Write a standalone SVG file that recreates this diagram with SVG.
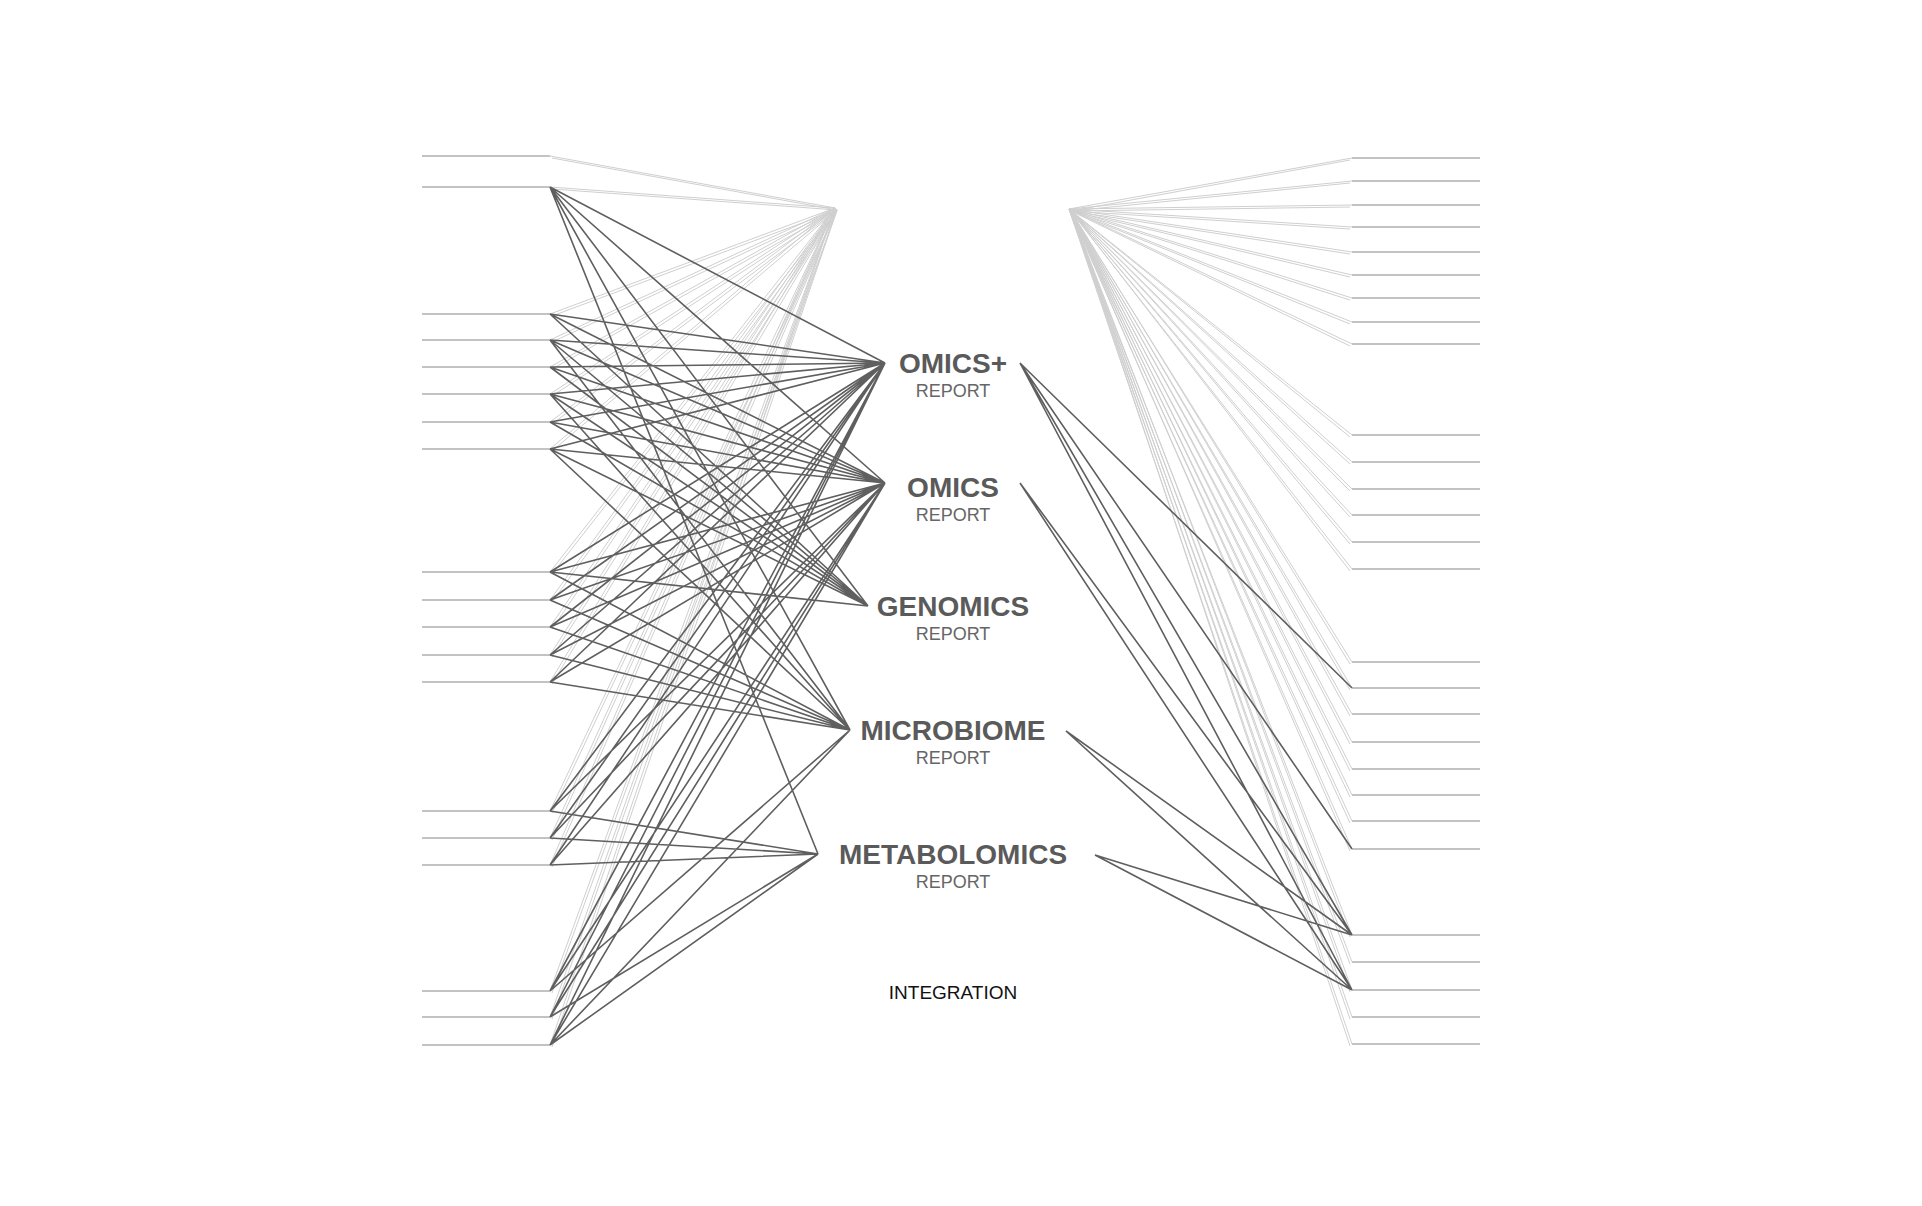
<svg xmlns="http://www.w3.org/2000/svg" width="1922" height="1206" viewBox="0 0 1922 1206">
<style>
.stub{stroke:#b0b0b0;stroke-width:1.3;fill:none}
.lt{stroke:#cfcfcf;stroke-width:1;fill:none}
.dk{stroke:#5f5f5f;stroke-width:1.6;fill:none}
.t{font-family:"Liberation Sans",Arial,sans-serif;font-weight:bold;font-size:28px;fill:#5a5a5a;text-anchor:middle}
.r{font-family:"Liberation Sans",Arial,sans-serif;font-size:18px;fill:#666;text-anchor:middle}
.i{font-family:"Liberation Sans",Arial,sans-serif;font-size:19px;fill:#111;text-anchor:middle}
</style>
<rect width="1922" height="1206" fill="#fff"/>
<g id="connectors">
<path class="stub" d="M422 156H550M422 187H550M422 314H550M422 340H550M422 367H550M422 394H550M422 422H550M422 449H550M422 572H550M422 600H550M422 627H550M422 655H550M422 682H550M422 811H550M422 838H550M422 865H550M422 991H550M422 1017H550M422 1045H550"/>
<path class="lt" d="M550 156L835 208M550 187L835 208M550 314L835 208M550 340L835 208M550 367L835 208M550 394L835 208M550 422L835 208M550 449L835 208M550 572L835 208M550 600L835 208M550 627L835 208M550 655L835 208M550 682L835 208M550 811L835 208M550 838L835 208M550 865L835 208M550 991L835 208M550 1017L835 208M550 1045L835 208"/>
<path class="lt" d="M552 158L837 210M552 189L837 210M552 316L837 210M552 342L837 210M552 369L837 210M552 396L837 210M552 424L837 210M552 451L837 210M552 574L837 210M552 602L837 210M552 629L837 210M552 657L837 210M552 684L837 210M552 813L837 210M552 840L837 210M552 867L837 210M552 993L837 210M552 1019L837 210M552 1047L837 210"/>
<path class="dk" d="M550 187L885 363M550 187L885 483M550 187L868 606M550 187L850 730M550 187L818 854
M550 314L885 363M550 314L885 483M550 314L868 606
M550 340L885 363M550 340L885 483M550 340L868 606M550 340L850 730
M550 367L885 363M550 367L885 483M550 367L868 606
M550 394L885 363M550 394L885 483M550 394L868 606M550 394L850 730
M550 422L885 363M550 422L885 483M550 422L868 606
M550 449L885 363M550 449L885 483M550 449L868 606M550 449L850 730
M550 572L885 363M550 572L885 483M550 572L868 606M550 572L850 730
M550 600L885 363M550 600L885 483M550 600L850 730
M550 627L885 363M550 627L885 483M550 627L850 730
M550 655L885 363M550 655L885 483M550 655L850 730
M550 682L885 363M550 682L885 483M550 682L850 730
M550 811L885 363M550 811L885 483M550 811L818 854
M550 838L885 363M550 838L885 483M550 838L818 854
M550 865L885 363M550 865L885 483M550 865L818 854
M550 991L885 363M550 991L885 483M550 991L850 730
M550 1017L885 363M550 1017L885 483M550 1017L818 854
M550 1045L885 363M550 1045L885 483M550 1045L850 730M550 1045L818 854"/>
<path class="stub" d="M1352 158H1480M1352 181H1480M1352 205H1480M1352 227H1480M1352 252H1480M1352 275H1480M1352 298H1480M1352 322H1480M1352 344H1480M1352 435H1480M1352 462H1480M1352 489H1480M1352 515H1480M1352 542H1480M1352 569H1480M1352 662H1480M1352 688H1480M1352 714H1480M1352 742H1480M1352 769H1480M1352 795H1480M1352 821H1480M1352 849H1480M1352 935H1480M1352 962H1480M1352 990H1480M1352 1017H1480M1352 1044H1480"/>
<path class="lt" d="M1069 209L1352 158M1069 209L1352 181M1069 209L1352 205M1069 209L1352 227M1069 209L1352 252M1069 209L1352 275M1069 209L1352 298M1069 209L1352 322M1069 209L1352 344M1069 209L1352 435M1069 209L1352 462M1069 209L1352 489M1069 209L1352 515M1069 209L1352 542M1069 209L1352 569M1069 209L1352 662M1069 209L1352 688M1069 209L1352 714M1069 209L1352 742M1069 209L1352 769M1069 209L1352 795M1069 209L1352 821M1069 209L1352 849M1069 209L1352 935M1069 209L1352 962M1069 209L1352 990M1069 209L1352 1017M1069 209L1352 1044"/>
<path class="lt" d="M1071 211L1350 160M1071 211L1350 183M1071 211L1350 207M1071 211L1350 229M1071 211L1350 254M1071 211L1350 277M1071 211L1350 300M1071 211L1350 324M1071 211L1350 346M1071 211L1350 437M1071 211L1350 464M1071 211L1350 491M1071 211L1350 517M1071 211L1350 544M1071 211L1350 571M1071 211L1350 664M1071 211L1350 690M1071 211L1350 716M1071 211L1350 744M1071 211L1350 771M1071 211L1350 797M1071 211L1350 823M1071 211L1350 851M1071 211L1350 937M1071 211L1350 964M1071 211L1350 992M1071 211L1350 1019M1071 211L1350 1046"/>
<path class="dk" d="M1020 363L1352 688M1020 363L1352 849M1020 363L1352 935M1020 363L1352 990M1020 483L1352 935M1020 483L1352 990M1066 731L1352 935M1066 731L1352 990M1095 855L1352 935M1095 855L1352 990"/>
</g>
<g id="omicsplus"><text class="t" x="953" y="373">OMICS+</text><text class="r" x="953" y="397">REPORT</text></g>
<g id="omics"><text class="t" x="953" y="497">OMICS</text><text class="r" x="953" y="521">REPORT</text></g>
<g id="genomics"><text class="t" x="953" y="616">GENOMICS</text><text class="r" x="953" y="640">REPORT</text></g>
<g id="microbiome"><text class="t" x="953" y="740">MICROBIOME</text><text class="r" x="953" y="764">REPORT</text></g>
<g id="metabolomics"><text class="t" x="953" y="864">METABOLOMICS</text><text class="r" x="953" y="888">REPORT</text></g>
<g id="integration"><text class="i" x="953" y="999">INTEGRATION</text></g>
</svg>
